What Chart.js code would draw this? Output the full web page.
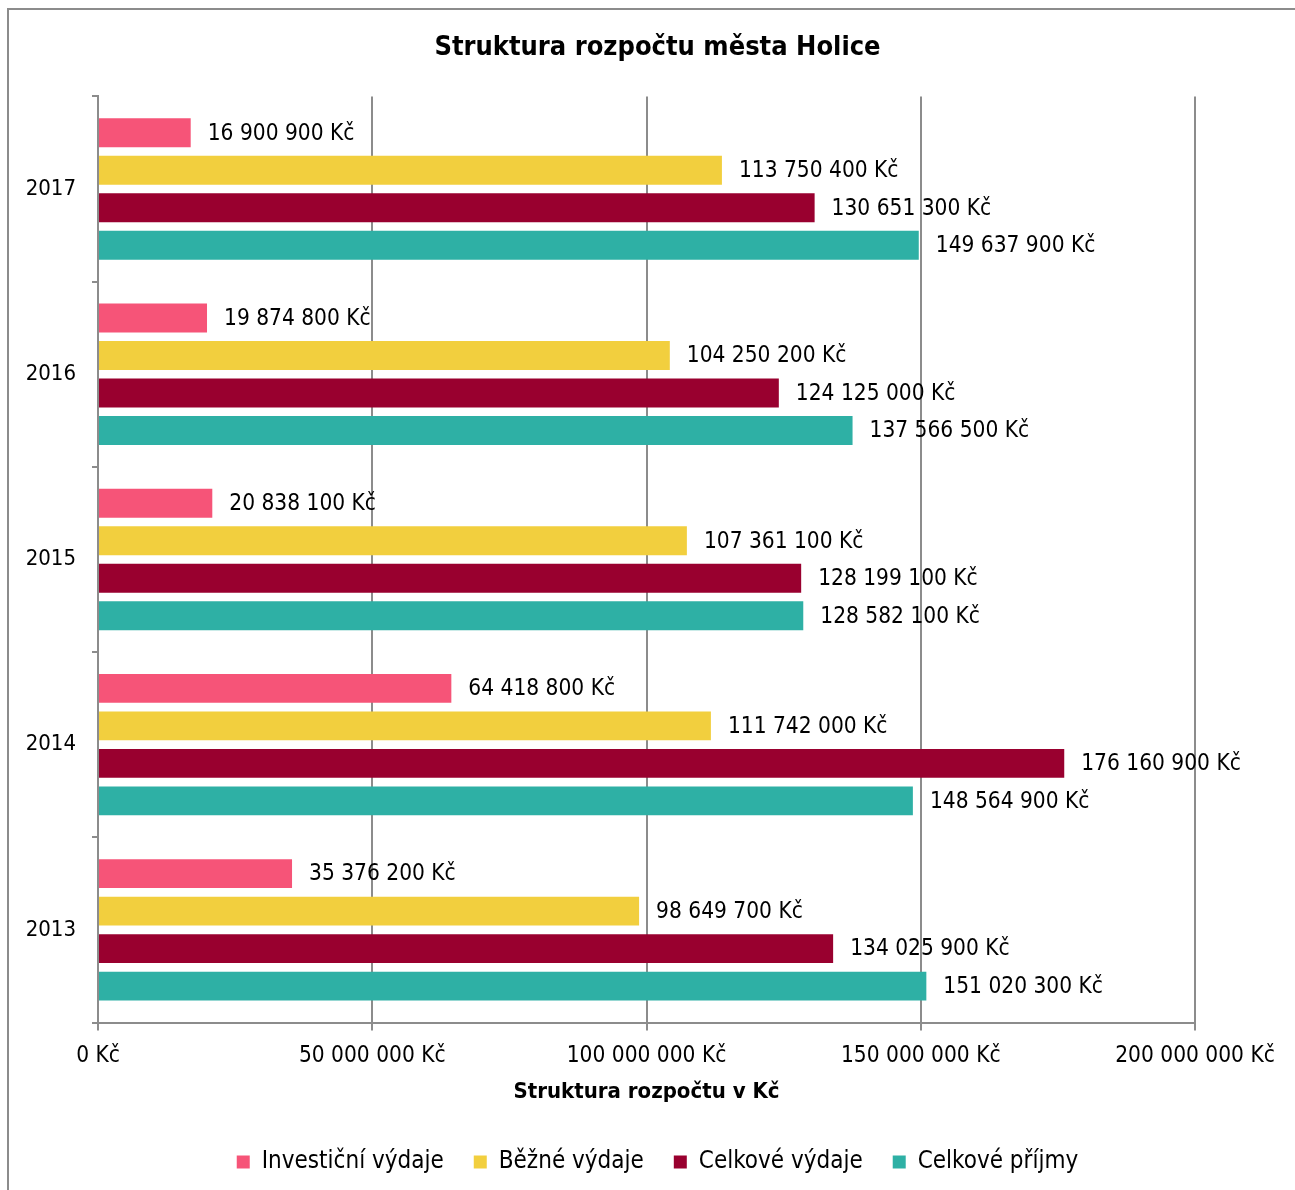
<!DOCTYPE html>
<html>
<head>
<meta charset="utf-8">
<script src="https://cdn.jsdelivr.net/npm/chart.js@4.4.0/dist/chart.umd.min.js"></script>
<style>
    html, body { margin: 0; padding: 0; background: #fff; }
    #wrap { width: 1295px; height: 1190px; position: relative; }
</style>
</head>
<body>
<div id="wrap"><canvas id="graf"></canvas></div>
<script>
// Data (roky odshora dolů)
const roky = ['2017', '2016', '2015', '2014', '2013'];
const investicni = [16900900, 19874800, 20838100, 64418800, 35376200];
const bezne = [113750400, 104250200, 107361100, 111742000, 98649700];
const celkoveVydaje = [130651300, 124125000, 128199100, 176160900, 134025900];
const celkovePrijmy = [149637900, 137566500, 128582100, 148564900, 151020300];
const osaTicks = [0, 50000000, 100000000, 150000000, 200000000];

const FONT = "'DejaVu Sans Condensed', 'DejaVu Sans', sans-serif";

function formatKc(v) {
    return String(Math.round(v)).replace(/\B(?=(\d{3})+(?!\d))/g, ' ') + ' Kč';
}

// Rámeček kolem grafu
const ramecek = {
    id: 'ramecek',
    beforeDraw(chart) {
        const ctx = chart.ctx;
        ctx.save();
        ctx.strokeStyle = '#8c8c8c';
        ctx.lineWidth = 2;
        ctx.strokeRect(8, 9, chart.width + 20, chart.height + 20);
        ctx.restore();
    }
};

// Popisky hodnot u konce sloupců
const popisky = {
    id: 'popisky',
    afterDatasetsDraw(chart) {
        const ctx = chart.ctx;
        ctx.save();
        ctx.font = '22.5px ' + FONT;
        ctx.fillStyle = '#000';
        ctx.textAlign = 'left';
        ctx.textBaseline = 'middle';
        chart.data.datasets.forEach(function(ds, i) {
            chart.getDatasetMeta(i).data.forEach(function(bar, j) {
                ctx.fillText(formatKc(ds.data[j]), bar.x + 17, bar.y + 1);
            });
        });
        ctx.restore();
    }
};

new Chart(document.getElementById('graf'), {
    type: 'bar',
    data: {
        labels: roky,
        datasets: [
            { label: 'Investiční výdaje', data: investicni, backgroundColor: '#F65478' },
            { label: 'Běžné výdaje', data: bezne, backgroundColor: '#F2CF3E' },
            { label: 'Celkové výdaje', data: celkoveVydaje, backgroundColor: '#99002F' },
            { label: 'Celkové příjmy', data: celkovePrijmy, backgroundColor: '#2EB0A5' }
        ]
    },
    options: {
        indexAxis: 'y',
        responsive: true,
        maintainAspectRatio: false,
        animation: false,
        datasets: {
            bar: {
                categoryPercentage: 0.81,
                barPercentage: 0.77
            }
        },
        layout: {
            padding: { left: 20, right: 0, top: 14, bottom: 6 }
        },
        plugins: {
            title: {
                display: true,
                text: 'Struktura rozpočtu města Holice',
                color: '#000',
                font: { family: FONT, size: 27, weight: 'bold' },
                padding: { top: 18, bottom: 32 }
            },
            legend: {
                display: true,
                position: 'bottom',
                labels: {
                    color: '#000',
                    font: { family: FONT, size: 24 },
                    boxWidth: 13,
                    boxHeight: 13,
                    padding: 30
                }
            },
            tooltip: { enabled: false }
        },
        scales: {
            x: {
                min: 0,
                max: 200000000,
                afterBuildTicks: function(axis) {
                    axis.ticks = osaTicks.map(function(v) { return { value: v }; });
                },
                afterFit: function(axis) {
                    axis.paddingRight = 100;
                },
                grid: {
                    color: '#8c8c8c',
                    lineWidth: 2,
                    tickLength: 8
                },
                border: { color: '#8c8c8c', width: 2 },
                ticks: {
                    color: '#000',
                    font: { family: FONT, size: 22.5, lineHeight: 1 },
                    padding: 14,
                    maxRotation: 0,
                    callback: function(value) { return formatKc(value); }
                },
                title: {
                    display: true,
                    text: 'Struktura rozpočtu v Kč',
                    color: '#000',
                    font: { family: FONT, size: 22, weight: 'bold', lineHeight: 1 },
                    padding: { top: 0, bottom: 17 }
                }
            },
            y: {
                afterFit: function(axis) {
                    axis.width = 78;
                },
                grid: {
                    drawOnChartArea: false,
                    color: '#8c8c8c',
                    lineWidth: 2,
                    tickLength: 6,
                    offset: true
                },
                border: { color: '#8c8c8c', width: 2 },
                ticks: {
                    color: '#000',
                    font: { family: FONT, size: 22 },
                    padding: 16
                }
            }
        }
    },
    plugins: [ramecek, popisky]
});
</script>
</body>
</html>
